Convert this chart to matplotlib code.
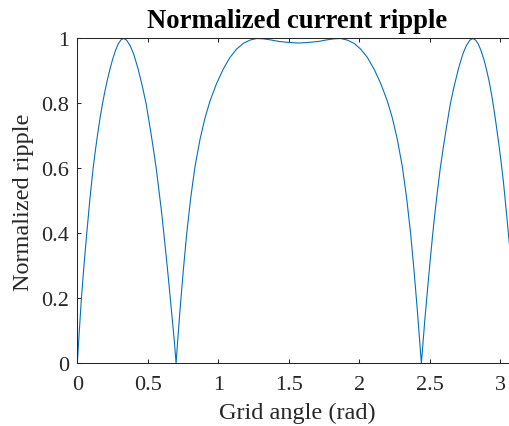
import matplotlib
matplotlib.use('Agg')
import matplotlib.pyplot as plt

# values
angle = [0.000, 0.015, 0.029, 0.048, 0.067, 0.088, 0.112, 0.128, 0.145, 0.162,
         0.179, 0.196, 0.214, 0.233, 0.250, 0.270, 0.290, 0.310, 0.329,
         0.350, 0.375, 0.400, 0.429, 0.460, 0.488, 0.520, 0.540, 0.560, 0.580,
         0.600, 0.614, 0.630, 0.645, 0.660, 0.675, 0.690, 0.701,
         0.715, 0.730, 0.752, 0.776, 0.805, 0.835, 0.871, 0.906, 0.942, 0.989,
         1.036, 1.084, 1.130, 1.178, 1.225, 1.273, 1.320, 1.368, 1.430, 1.498,
         1.571,
         1.644, 1.712, 1.774, 1.822, 1.869, 1.917, 1.964, 2.012, 2.058, 2.106,
         2.153, 2.200, 2.236, 2.271, 2.307, 2.337, 2.366, 2.390, 2.412, 2.427,
         2.442,
         2.452, 2.466, 2.480, 2.494, 2.508, 2.523, 2.537, 2.556, 2.576, 2.596,
         2.616, 2.648, 2.676, 2.707, 2.736, 2.761, 2.786, 2.807,
         2.827, 2.846, 2.866, 2.886, 2.905, 2.922, 2.940, 2.957, 2.974, 2.991,
         3.008, 3.024, 3.047, 3.066]
ripple = [0.000, 0.105, 0.200, 0.305, 0.400, 0.500, 0.600, 0.655, 0.708, 0.757,
          0.800, 0.838, 0.874, 0.908, 0.935, 0.962, 0.983, 0.996, 1.000,
          0.995, 0.978, 0.952, 0.910, 0.856, 0.800, 0.716, 0.660, 0.600, 0.530,
          0.458, 0.400, 0.333, 0.268, 0.200, 0.131, 0.061, 0.000,
          0.085, 0.170, 0.285, 0.398, 0.510, 0.605, 0.690, 0.755, 0.808, 0.862,
          0.906, 0.942, 0.967, 0.985, 0.995, 1.000, 0.999, 0.996, 0.991, 0.988,
          0.986,
          0.988, 0.991, 0.996, 0.999, 1.000, 0.995, 0.985, 0.967, 0.942, 0.906,
          0.862, 0.808, 0.755, 0.690, 0.605, 0.510, 0.398, 0.285, 0.170, 0.085,
          0.000,
          0.055, 0.131, 0.200, 0.268, 0.333, 0.400, 0.458, 0.530, 0.600, 0.660,
          0.716, 0.800, 0.856, 0.910, 0.952, 0.978, 0.995, 1.000,
          0.995, 0.983, 0.962, 0.935, 0.903, 0.870, 0.828, 0.782, 0.731, 0.677,
          0.620, 0.560, 0.458, 0.370]

x_ticks = [0, 0.5, 1, 1.5, 2, 2.5, 3]
x_tick_labels = ['0', '0.5', '1', '1.5', '2', '2.5', '3']
y_ticks = [0, 0.2, 0.4, 0.6, 0.8, 1]
y_tick_labels = ['0', '0.2', '0.4', '0.6', '0.8', '1']

plt.rcParams['font.family'] = ['Liberation Serif', 'DejaVu Serif']
ink = '#262626'

fig = plt.figure(figsize=(5.1, 4.27), dpi=100)
ax = fig.add_axes([0.1516, 0.1468, 0.8484, 0.7607])

ax.plot(angle, ripple, color='#0072BD', linewidth=0.8)

ax.set_xlim(0, 3.071)
ax.set_ylim(0, 1)
ax.set_xticks(x_ticks, x_tick_labels)
ax.set_yticks(y_ticks, y_tick_labels)

# matlab look: ticks inside, box on top, right side is cropped away
ax.spines['right'].set_visible(False)
for side in ['left', 'top', 'bottom']:
    ax.spines[side].set_color(ink)
    ax.spines[side].set_linewidth(0.75)
ax.tick_params(direction='in', length=3, width=0.75, color=ink,
               labelcolor=ink, labelsize=16, top=True, right=False)
ax.tick_params(axis='x', pad=8.5)
ax.tick_params(axis='y', pad=6)

ax.set_xlabel('Grid angle (rad)', fontsize=17.5, color=ink)
ax.xaxis.set_label_coords(0.509, -0.117, transform=ax.transAxes)
ax.xaxis.label.set_va('top')
ax.set_ylabel('Normalized ripple', fontsize=17.5, color=ink)
ax.yaxis.set_label_coords(-0.099, 0.5)

ax.set_title('Normalized current ripple', fontsize=19.2, fontweight='bold',
             x=0.509, pad=8)

fig.savefig('out.png', dpi=100)
